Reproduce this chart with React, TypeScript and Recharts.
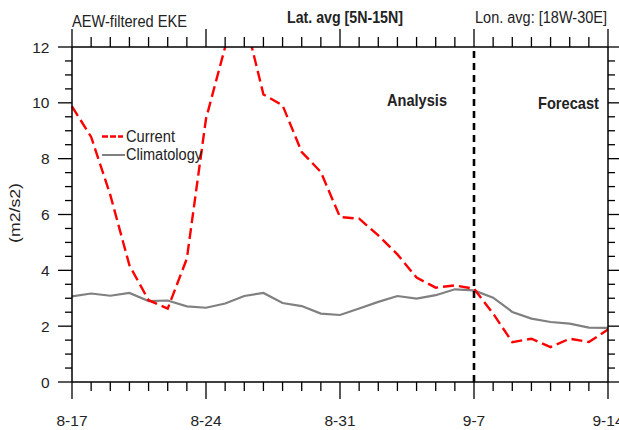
import { LineChart, Line, XAxis, YAxis, ReferenceLine, Legend } from 'recharts';

// daily values, 8-17 .. 9-14
const days = [
  '8-17', '8-18', '8-19', '8-20', '8-21', '8-22', '8-23', '8-24', '8-25', '8-26',
  '8-27', '8-28', '8-29', '8-30', '8-31', '9-1', '9-2', '9-3', '9-4', '9-5',
  '9-6', '9-7', '9-8', '9-9', '9-10', '9-11', '9-12', '9-13', '9-14',
];
const current = [
  9.87, 8.78, 6.7, 4.18, 2.93, 2.63, 4.42, 9.43, 12.0, 13.1,
  10.3, 9.91, 8.24, 7.52, 5.91, 5.85, 5.25, 4.57, 3.74, 3.38,
  3.46, 3.34, 2.45, 1.43, 1.55, 1.25, 1.55, 1.43, 1.88,
];
const climatology = [
  3.07, 3.17, 3.09, 3.19, 2.9, 2.92, 2.71, 2.66, 2.81, 3.08,
  3.19, 2.83, 2.72, 2.45, 2.4, 2.63, 2.87, 3.08, 2.99, 3.11,
  3.32, 3.28, 3.02, 2.51, 2.27, 2.15, 2.09, 1.95, 1.94,
];
const xMajorIdx = [0, 7, 14, 21, 28];
const xMajorLabels = ['8-17', '8-24', '8-31', '9-7', '9-14'];
const yTicks = Array.from({ length: 25 }, (_, i) => i * 0.5);
const yLabels = [0, 2, 4, 6, 8, 10, 12];
const forecastStart = 21;

const data = days.map((d, i) => ({ day: i, label: d, current: current[i], clim: climatology[i] }));
const xTicks = days.map((_, i) => i);

const FONT = '"Liberation Sans", Arial, Helvetica, sans-serif';
const RED = '#ff0000';
const GRAY = '#808080';

function BottomTick({ x, y, payload }: any) {
  const k = xMajorIdx.indexOf(payload.value);
  const major = k >= 0;
  return (
    <g>
      <line x1={x} x2={x} y1={y} y2={y + (major ? 17 : 9)} stroke="#000" strokeWidth={1.3} />
      {major && (
        <text x={x} y={y + 44} textAnchor="middle" fontSize={15.5} fontFamily={FONT} fill="#222">
          {xMajorLabels[k]}
        </text>
      )}
    </g>
  );
}

function TopTick({ x, y, payload }: any) {
  const major = xMajorIdx.includes(payload.value);
  return <line x1={x} x2={x} y1={y} y2={y - (major ? 18 : 10)} stroke="#000" strokeWidth={1.3} />;
}

function LeftTick({ x, y, payload }: any) {
  const major = yLabels.includes(payload.value);
  return (
    <g>
      <line x1={x} x2={x - (major ? 14 : 7)} y1={y} y2={y} stroke="#000" strokeWidth={1.3} />
      {major && (
        <text x={x - 22.5} y={y} dy="0.36em" textAnchor="end" fontSize={15.5} fontFamily={FONT} fill="#222">
          {payload.value}
        </text>
      )}
    </g>
  );
}

function RightTick({ x, y, payload }: any) {
  const major = yLabels.includes(payload.value);
  return <line x1={x} x2={x + (major ? 14 : 7)} y1={y} y2={y} stroke="#000" strokeWidth={1.3} />;
}

function LegendBox() {
  return (
    <svg width={110} height={42} style={{ overflow: 'visible' }}>
      <line x1={2} x2={23} y1={11.5} y2={11.5} stroke={RED} strokeWidth={2.4} strokeDasharray="6 2" />
      <text x={26} y={17} fontSize={16} fontFamily={FONT} fill="#222" textLength={49} lengthAdjust="spacingAndGlyphs">
        Current
      </text>
      <line x1={2} x2={25} y1={30} y2={30} stroke={GRAY} strokeWidth={2} />
      <text x={26} y={35} fontSize={16} fontFamily={FONT} fill="#222" textLength={76} lengthAdjust="spacingAndGlyphs">
        Climatology
      </text>
    </svg>
  );
}

export default function App() {
  return (
    <div style={{ position: 'absolute', left: 0, top: 0, width: 619, height: 430, background: '#fff' }}>
      <LineChart width={619} height={430} data={data} margin={{ top: 0, right: 0, bottom: 0, left: 0 }}>
        <XAxis
          xAxisId="bottom"
          dataKey="day"
          type="number"
          domain={[0, 28]}
          ticks={xTicks}
          interval={0}
          height={48}
          tickSize={0}
          tickMargin={0}
          tickLine={false}
          tick={<BottomTick />}
          axisLine={{ stroke: '#000', strokeWidth: 1.5 }}
        />
        <XAxis
          xAxisId="top"
          orientation="top"
          dataKey="day"
          type="number"
          domain={[0, 28]}
          ticks={xTicks}
          interval={0}
          height={47}
          tickSize={0}
          tickMargin={0}
          tickLine={false}
          tick={<TopTick />}
          axisLine={{ stroke: '#000', strokeWidth: 1.5 }}
        />
        <YAxis
          yAxisId="left"
          type="number"
          domain={[0, 12]}
          ticks={yTicks}
          interval={0}
          allowDataOverflow
          width={72}
          tickSize={0}
          tickMargin={0}
          tickLine={false}
          tick={<LeftTick />}
          axisLine={{ stroke: '#000', strokeWidth: 1.5 }}
        />
        <YAxis
          yAxisId="right"
          orientation="right"
          type="number"
          domain={[0, 12]}
          ticks={yTicks}
          interval={0}
          allowDataOverflow
          width={11}
          tickSize={0}
          tickMargin={0}
          tickLine={false}
          tick={<RightTick />}
          axisLine={{ stroke: '#000', strokeWidth: 1.5 }}
        />
        <Legend
          layout="vertical"
          verticalAlign="middle"
          align="center"
          content={<LegendBox />}
          wrapperStyle={{ position: 'absolute', left: 100, top: 125, width: 110, height: 42 }}
        />
        <Line
          xAxisId="bottom"
          yAxisId="left"
          dataKey="clim"
          name="Climatology"
          stroke={GRAY}
          strokeWidth={2.2}
          dot={false}
          isAnimationActive={false}
        />
        <Line
          xAxisId="bottom"
          yAxisId="left"
          dataKey="current"
          name="Current"
          stroke={RED}
          strokeWidth={2.4}
          strokeDasharray="11 5"
          dot={false}
          isAnimationActive={false}
        />
        <ReferenceLine
          xAxisId="bottom"
          yAxisId="left"
          x={forecastStart}
          stroke="#000"
          strokeWidth={2.6}
          strokeDasharray="7 5"
        />
      </LineChart>
      <svg
        width={619}
        height={430}
        style={{ position: 'absolute', left: 0, top: 0, pointerEvents: 'none' }}
        fontFamily={FONT}
        fill="#222"
      >
        <text x={72} y={26.5} fontSize={16} textLength={115} lengthAdjust="spacingAndGlyphs">
          AEW-filtered EKE
        </text>
        <text x={287} y={23} fontSize={16} fontWeight="bold" textLength={116} lengthAdjust="spacingAndGlyphs">
          Lat. avg [5N-15N]
        </text>
        <text x={475} y={22.5} fontSize={16} textLength={132} lengthAdjust="spacingAndGlyphs">
          Lon. avg: [18W-30E]
        </text>
        <text x={387} y={106} fontSize={17} fontWeight="bold" textLength={60} lengthAdjust="spacingAndGlyphs">
          Analysis
        </text>
        <text x={538} y={108.5} fontSize={17} fontWeight="bold" textLength={61} lengthAdjust="spacingAndGlyphs">
          Forecast
        </text>
        <text
          x={15}
          y={213}
          fontSize={15}
          textAnchor="middle"
          dy="0.35em"
          transform="rotate(-90 15 213)"
          textLength={60}
          lengthAdjust="spacingAndGlyphs"
        >
          (m2/s2)
        </text>
      </svg>
    </div>
  );
}
